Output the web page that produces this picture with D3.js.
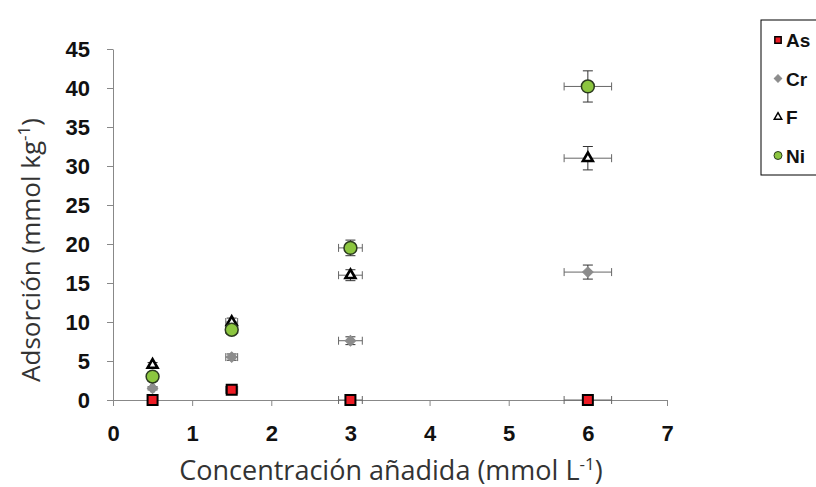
<!DOCTYPE html>
<html>
<head>
<meta charset="utf-8">
<script src="https://cdn.jsdelivr.net/npm/d3@7"></script>
<style>
body { margin: 0; background: #fff; }
.axis path, .axis line { stroke: #888; }
.axis text { font-family: "Liberation Sans", Arial, sans-serif; font-weight: bold; font-size: 22px; fill: #111; }
.title { font-family: "Open Sans", "Noto Sans", sans-serif; fill: #333; }
.legend text { font-family: "Liberation Sans", Arial, sans-serif; font-weight: bold; font-size: 19px; fill: #111; }
</style>
</head>
<body>
<svg id="plate" width="816" height="487"></svg>
<script>
var conc = [0.5, 1.5, 3, 6];
var xErr = [0.025, 0.075, 0.15, 0.3];
var asVals = [0, 1.3, 0, 0];
var asErr = [0, 0.2, 0, 0];
var crVals = [1.5, 5.5, 7.6, 16.4];
var crErr = [0.2, 0.4, 0.5, 0.9];
var fVals = [4.5, 10, 16, 31];
var fErr = [0.3, 0.5, 0.7, 1.5];
var niVals = [3, 9, 19.5, 40.2];
var niErr = [0.3, 0.6, 1, 2];
var xTicks = [0, 1, 2, 3, 4, 5, 6, 7];
var yTicks = [0, 5, 10, 15, 20, 25, 30, 35, 40, 45];
var seriesNames = ['As', 'Cr', 'F', 'Ni'];

var svg = d3.select('#plate');
var x = d3.scaleLinear().domain([0, 7]).range([113, 667]);
var y = d3.scaleLinear().domain([0, 45]).range([400, 49]);

// axes
svg.append('g')
    .attr('class', 'axis')
    .attr('transform', 'translate(0,' + y(0) + ')')
    .call(d3.axisBottom(x).tickValues(xTicks).tickFormat(d3.format('d')).tickSize(6).tickSizeOuter(0).tickPadding(19));

svg.append('g')
    .attr('class', 'axis')
    .attr('transform', 'translate(' + x(0) + ',0)')
    .call(d3.axisLeft(y).tickValues(yTicks).tickSize(6).tickSizeOuter(0).tickPadding(17));

// axis titles
svg.append('text')
    .attr('class', 'title')
    .attr('x', 391)
    .attr('y', 480)
    .attr('text-anchor', 'middle')
    .attr('font-size', 27)
    .html('Concentración añadida (mmol L<tspan dy="-10" font-size="17">-1</tspan><tspan dy="10">)</tspan>');

svg.append('text')
    .attr('class', 'title')
    .attr('transform', 'translate(40,' + 250 + ') rotate(-90)')
    .attr('text-anchor', 'middle')
    .attr('font-size', 26)
    .html('Adsorción (mmol kg<tspan dy="-10" font-size="17">-1</tspan><tspan dy="10">)</tspan>');

function build(vals, errs) {
    return conc.map((c, i) => ({x: c, y: vals[i], ex: xErr[i], ey: errs[i]}));
}
var data = {
    As: build(asVals, asErr),
    Cr: build(crVals, crErr),
    F: build(fVals, fErr),
    Ni: build(niVals, niErr)
};

var symbols = {
    As: {type: d3.symbolSquare, size: 100, fill: '#ee1c25', stroke: '#000', sw: 2, rot: 0},
    Cr: {type: d3.symbolSquare, size: 55, fill: '#8c8c8c', stroke: '#8c8c8c', sw: 1, rot: 45},
    F: {type: d3.symbolTriangle, size: 42, fill: '#fff', stroke: '#000', sw: 2.6, rot: 0},
    Ni: {type: d3.symbolCircle, size: 130, fill: '#8cc63f', stroke: '#2b3a1f', sw: 1.5, rot: 0}
};

// error bars
var drawOrder = ['Cr', 'F', 'Ni', 'As'];
drawOrder.forEach((name) => {
    var g = svg.append('g').attr('class', 'err').attr('stroke', '#666').attr('stroke-width', 1);
    data[name].forEach((d) => {
        if (d.ex > 0) {
            g.append('line').attr('x1', x(d.x - d.ex)).attr('x2', x(d.x + d.ex)).attr('y1', y(d.y)).attr('y2', y(d.y));
            [d.x - d.ex, d.x + d.ex].forEach((v) => {
                g.append('line').attr('x1', x(v)).attr('x2', x(v)).attr('y1', y(d.y) - 4).attr('y2', y(d.y) + 4);
            });
        }
        if (d.ey > 0) {
            g.append('line').attr('x1', x(d.x)).attr('x2', x(d.x)).attr('y1', y(d.y - d.ey)).attr('y2', y(d.y + d.ey)).attr('stroke', '#333');
            [d.y - d.ey, d.y + d.ey].forEach((v) => {
                g.append('line').attr('x1', x(d.x) - 5).attr('x2', x(d.x) + 5).attr('y1', y(v)).attr('y2', y(v)).attr('stroke', '#333');
            });
        }
    });
});

// markers
drawOrder.forEach((name) => {
    var s = symbols[name];
    svg.append('g')
        .selectAll('path')
        .data(data[name])
        .join('path')
        .attr('transform', (d) => 'translate(' + x(d.x) + ',' + y(d.y) + ') rotate(' + s.rot + ')')
        .attr('d', d3.symbol().type(s.type).size(s.size))
        .attr('fill', s.fill)
        .attr('stroke', s.stroke)
        .attr('stroke-width', s.sw);
});

// legend
var legend = svg.append('g').attr('class', 'legend');
legend.append('rect')
    .attr('x', 761)
    .attr('y', 20)
    .attr('width', 70)
    .attr('height', 155)
    .attr('fill', '#fff')
    .attr('stroke', '#000')
    .attr('stroke-width', 1);
var legendSymbols = {
    As: {size: 40, sw: 1.5},
    Cr: {size: 28, sw: 1},
    F: {size: 24, sw: 1.5},
    Ni: {size: 50, sw: 1}
};
seriesNames.forEach((name, i) => {
    var s = symbols[name];
    var ly = 40 + i * 38.5;
    legend.append('path')
        .attr('transform', 'translate(778,' + ly + ') rotate(' + s.rot + ')')
        .attr('d', d3.symbol().type(s.type).size(legendSymbols[name].size))
        .attr('fill', s.fill)
        .attr('stroke', s.stroke)
        .attr('stroke-width', legendSymbols[name].sw);
    legend.append('text')
        .attr('x', 786)
        .attr('y', ly + 7)
        .text(name);
});
</script>
</body>
</html>
